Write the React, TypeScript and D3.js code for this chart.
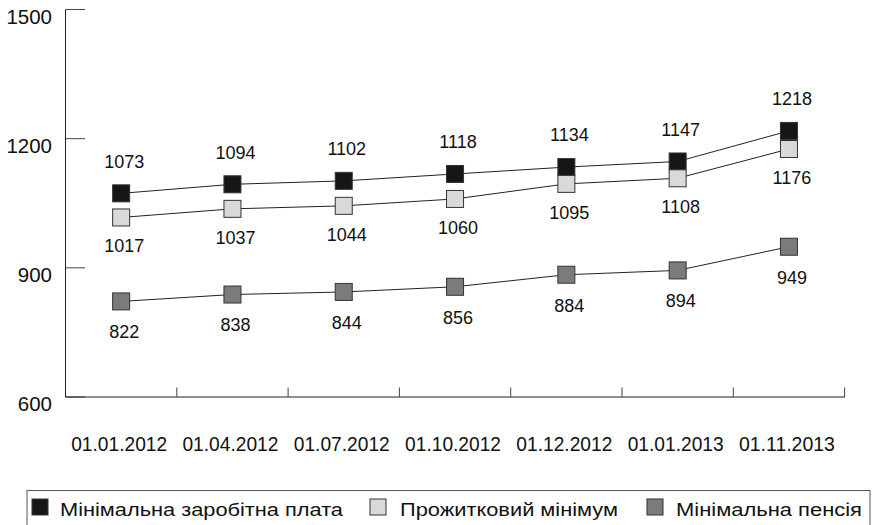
import { useMemo } from 'react';
import * as d3 from 'd3';

const categories = ['01.01.2012', '01.04.2012', '01.07.2012', '01.10.2012', '01.12.2012', '01.01.2013', '01.11.2013'];
const minWage = [1073, 1094, 1102, 1118, 1134, 1147, 1218];
const subsistence = [1017, 1037, 1044, 1060, 1095, 1108, 1176];
const minPension = [822, 838, 844, 856, 884, 894, 949];
const yTickValues = [600, 900, 1200, 1500];
const seriesNames = ['Мінімальна заробітна плата', 'Прожитковий мінімум', 'Мінімальна пенсія'];

const FONT = '"Liberation Sans", Arial, sans-serif';

const App = () => {
  const x = useMemo(() => d3.scaleBand<string>().domain(categories).range([65.5, 844.6]).padding(0), []);
  const y = useMemo(() => d3.scaleLinear().domain([600, 1500]).range([397, 9.5]), []);

  const series = [
    { name: seriesNames[0], values: minWage, fill: '#161616', labelDy: -32 },
    { name: seriesNames[1], values: subsistence, fill: '#d9d9d9', labelDy: 28.5 },
    { name: seriesNames[2], values: minPension, fill: '#7b7b7b', labelDy: 30.5 },
  ];

  const line = d3.line<number>()
    .x((_, i) => (x(categories[i]) ?? 0) + x.bandwidth() / 2)
    .y(d => y(d));

  const ms = 17;
  // legend layout: marker x, text start, text width
  const legendItems = [
    { x: 32, tx: 60, tw: 283, name: seriesNames[0], fill: '#161616' },
    { x: 370, tx: 400, tw: 218, name: seriesNames[1], fill: '#d9d9d9' },
    { x: 647, tx: 676, tw: 186, name: seriesNames[2], fill: '#7b7b7b' },
  ];

  return (
    <svg width={873} height={525} style={{ position: 'absolute', left: 0, top: 0, fontFamily: FONT }}>
      <rect width={873} height={525} fill="#fff" />

      {/* y axis */}
      <line x1={65.5} x2={65.5} y1={y(1500)} y2={y(600)} stroke="#222" />
      {yTickValues.map(v => (
        <g key={v} transform={`translate(0, ${y(v)})`}>
          <line x1={65.5} x2={85} stroke="#444" />
          <text x={52} y={14} textAnchor="end" fontSize={20.5} fill="#111">{v}</text>
        </g>
      ))}

      {/* x axis */}
      <line x1={65.5} x2={845} y1={y(600)} y2={y(600)} stroke="#222" />
      {categories.map(c => (
        <g key={c}>
          <line x1={(x(c) ?? 0) + x.bandwidth()} x2={(x(c) ?? 0) + x.bandwidth()} y1={387.5} y2={397} stroke="#444" />
          <text x={(x(c) ?? 0) + x.bandwidth() / 2 - 2} y={451} textAnchor="middle" fontSize={21}
            textLength={96} lengthAdjust="spacingAndGlyphs" fill="#111">{c}</text>
        </g>
      ))}

      {/* lines */}
      {series.map(s => (
        <path key={s.name} d={line(s.values) ?? undefined} fill="none" stroke="#222" strokeWidth={1} />
      ))}

      {/* markers */}
      {series.map(s => (
        <g key={s.name + 'm'}>
          {s.values.map((v, i) => {
            const cx = (x(categories[i]) ?? 0) + x.bandwidth() / 2;
            return (
              <rect key={i} x={cx - ms / 2} y={y(v) - ms / 2} width={ms} height={ms}
                fill={s.fill} stroke="#333" strokeWidth={1} />
            );
          })}
        </g>
      ))}

      {/* data labels */}
      {series.map(s => (
        <g key={s.name + 'l'}>
          {s.values.map((v, i) => {
            const cx = (x(categories[i]) ?? 0) + x.bandwidth() / 2;
            return (
              <text key={i} x={cx + 3} y={y(v) + s.labelDy} dy="0.35em" textAnchor="middle" fontSize={18} fill="#111">{v}</text>
            );
          })}
        </g>
      ))}

      {/* legend */}
      <rect x={27} y={490.5} width={843} height={40} fill="#fff" stroke="#555" />
      {legendItems.map(it => (
        <g key={it.name}>
          <rect x={it.x} y={499} width={16} height={16} fill={it.fill} stroke="#333" />
          <text x={it.tx} y={516} fontSize={17.5} textLength={it.tw} lengthAdjust="spacingAndGlyphs" fill="#111">{it.name}</text>
        </g>
      ))}
    </svg>
  );
};

export default App;
